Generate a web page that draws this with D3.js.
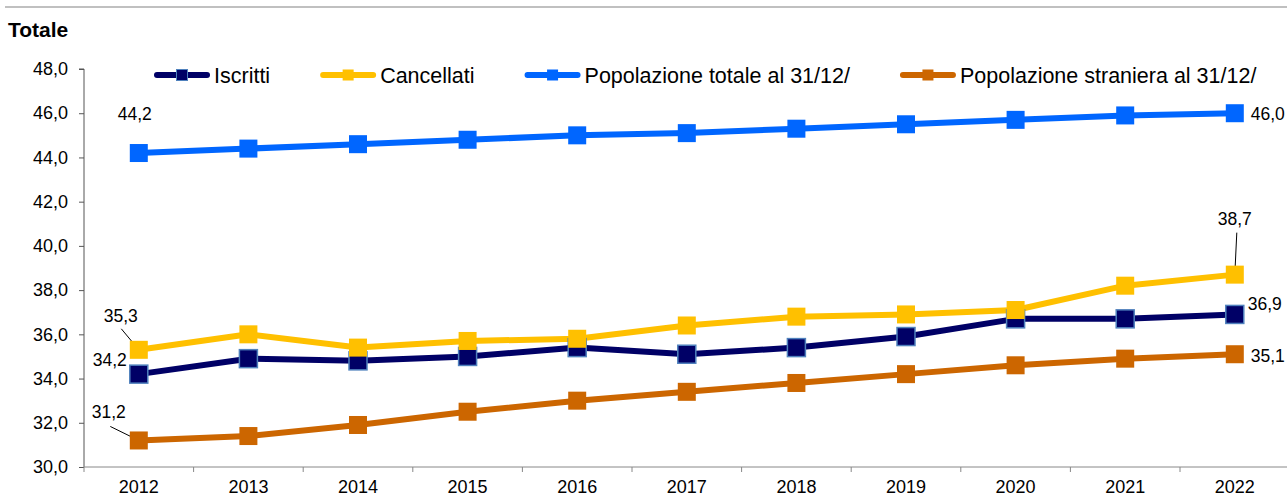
<!DOCTYPE html>
<html>
<head>
<meta charset="utf-8">
<script src="https://cdn.jsdelivr.net/npm/d3@7"></script>
<style>
  html, body { margin: 0; padding: 0; background: #fff; }
  svg { display: block; font-family: Arial, "Liberation Sans", sans-serif; }
</style>
</head>
<body>
<svg id="chart" width="1287" height="497"></svg>
<script>
// ---- data ----
const years = ["2012","2013","2014","2015","2016","2017","2018","2019","2020","2021","2022"];
const iscritti   = [34.2, 34.9, 34.8, 35.0, 35.4, 35.1, 35.4, 35.9, 36.7, 36.7, 36.9];
const cancellati = [35.3, 36.0, 35.4, 35.7, 35.8, 36.4, 36.8, 36.9, 37.1, 38.2, 38.7];
const popTotale  = [44.2, 44.4, 44.6, 44.8, 45.0, 45.1, 45.3, 45.5, 45.7, 45.9, 46.0];
const popStraniera = [31.2, 31.4, 31.9, 32.5, 33.0, 33.4, 33.8, 34.2, 34.6, 34.9, 35.1];
const seriesNames = ["Iscritti", "Cancellati", "Popolazione totale al 31/12/", "Popolazione straniera al 31/12/"];
const yTicks = [30, 32, 34, 36, 38, 40, 42, 44, 46, 48];
const yTitle = "Totale";

// ---- styles ----
const colors = ["#000066", "#ffc000", "#0066ff", "#cc6600"];
const markerStroke = ["#4f81bd", null, null, null];
const seriesValues = [iscritti, cancellati, popTotale, popStraniera];

const series = seriesNames.map((name, i) => ({
  name, color: colors[i], stroke: markerStroke[i],
  values: seriesValues[i].map((v, j) => ({ year: years[j], v }))
}));

// label annotations: series index, year index, offset placement
const labels = [
  { s: 2, i: 0,  anchor: "middle", dx: -4,  dy: -33 },
  { s: 2, i: 10, anchor: "start",  dx: 16,  dy: 7 },
  { s: 1, i: 0,  anchor: "middle", dx: -18, dy: -28, lx: -17.5, ly: -21 },
  { s: 0, i: 0,  anchor: "end",    dx: -12, dy: -8 },
  { s: 3, i: 0,  anchor: "middle", dx: -30, dy: -22, lx: -28.5, ly: -14 },
  { s: 1, i: 10, anchor: "middle", dx: 0,   dy: -50, lx: 2, ly: -42 },
  { s: 0, i: 10, anchor: "start",  dx: 13,  dy: -4 },
  { s: 3, i: 10, anchor: "start",  dx: 16,  dy: 8 }
];

const fmt = v => d3.format(".1f")(v).replace(".", ",");

const svg = d3.select("#chart");
const mLeft = 84, mRight = 84 + 11 * 109.6, mTop = 69, mBottom = 467;

const x = d3.scaleBand().domain(years).range([mLeft, mRight]).padding(0);
const y = d3.scaleLinear().domain([30, 48]).range([mBottom, mTop]);
const cx = yr => x(yr) + x.bandwidth() / 2;

// top gray rule
svg.append("line").attr("x1", 5).attr("x2", 1287).attr("y1", 7).attr("y2", 7)
  .attr("stroke", "#c0c0c0").attr("stroke-width", 2);

// title
svg.append("text").attr("x", 8).attr("y", 37).attr("font-size", 21).attr("font-weight", "bold")
  .attr("fill", "#000").text(yTitle);

// y axis
const yAxis = svg.append("g").attr("transform", `translate(${mLeft},0)`)
  .call(d3.axisLeft(y).tickValues(yTicks).tickSize(5).tickPadding(11).tickFormat(fmt));
yAxis.selectAll("path, line").attr("stroke", "#555");
yAxis.select(".domain").attr("d", `M-5,${mTop}H0V${mBottom}`);
yAxis.selectAll("text").attr("font-size", 18).attr("font-family", "Arial, 'Liberation Sans', sans-serif").attr("fill", "#000");

// x axis
const xAxis = svg.append("g").attr("transform", `translate(0,${mBottom})`)
  .call(d3.axisBottom(x).tickSize(0).tickPadding(0));
xAxis.select(".domain").attr("stroke", "#888").attr("d", `M${mLeft},0H1287`);
xAxis.selectAll(".tick line").remove();
xAxis.selectAll("text").attr("font-size", 18).attr("font-family", "Arial, 'Liberation Sans', sans-serif")
  .attr("fill", "#000").attr("dy", null).attr("y", 26);
// boundary ticks
svg.append("g").selectAll("line").data(years.concat(["end"])).join("line")
  .attr("x1", (d, i) => mLeft + i * x.bandwidth()).attr("x2", (d, i) => mLeft + i * x.bandwidth())
  .attr("y1", mBottom).attr("y2", mBottom + 5).attr("stroke", "#888");

// leaders
const gLead = svg.append("g");
labels.filter(l => l.lx !== undefined).forEach(l => {
  const d = series[l.s].values[l.i];
  gLead.append("line")
    .attr("x1", cx(d.year) + l.lx).attr("y1", y(d.v) + l.ly)
    .attr("x2", cx(d.year)).attr("y2", y(d.v))
    .attr("stroke", "#000").attr("stroke-width", 1);
});

// lines
const line = d3.line().x(d => cx(d.year)).y(d => y(d.v));
const gS = svg.append("g");
series.forEach(s => {
  gS.append("path").datum(s.values).attr("d", line)
    .attr("fill", "none").attr("stroke", s.color).attr("stroke-width", 6)
    .attr("stroke-linejoin", "round");
});
series.forEach(s => {
  gS.append("g").selectAll("rect").data(s.values).join("rect")
    .attr("x", d => cx(d.year) - 9).attr("y", d => y(d.v) - 9)
    .attr("width", 18).attr("height", 18)
    .attr("fill", s.color)
    .attr("stroke", s.stroke || "none").attr("stroke-width", s.stroke ? 1.5 : 0);
});

// data labels
labels.forEach(l => {
  const d = series[l.s].values[l.i];
  svg.append("text").attr("x", cx(d.year) + l.dx).attr("y", y(d.v) + l.dy)
    .attr("text-anchor", l.anchor).attr("font-size", 17.5).attr("fill", "#000")
    .text(fmt(d.v));
});

// legend
const leg = svg.append("g");
let lx = 154;
const ly = 75;
series.forEach(s => {
  const g = leg.append("g");
  g.append("line").attr("x1", lx + 3).attr("x2", lx + 53).attr("y1", ly).attr("y2", ly)
    .attr("stroke", s.color).attr("stroke-width", 6).attr("stroke-linecap", "round");
  g.append("rect").attr("x", lx + 28 - 5.5).attr("y", ly - 5.5).attr("width", 11).attr("height", 11)
    .attr("fill", s.color).attr("stroke", s.stroke || "none").attr("stroke-width", s.stroke ? 1 : 0);
  const t = g.append("text").attr("x", lx + 60).attr("y", ly + 8).attr("font-size", 21.5).attr("fill", "#000").text(s.name);
  lx = lx + 60 + t.node().getComputedTextLength() + 50;
});
</script>
</body>
</html>
